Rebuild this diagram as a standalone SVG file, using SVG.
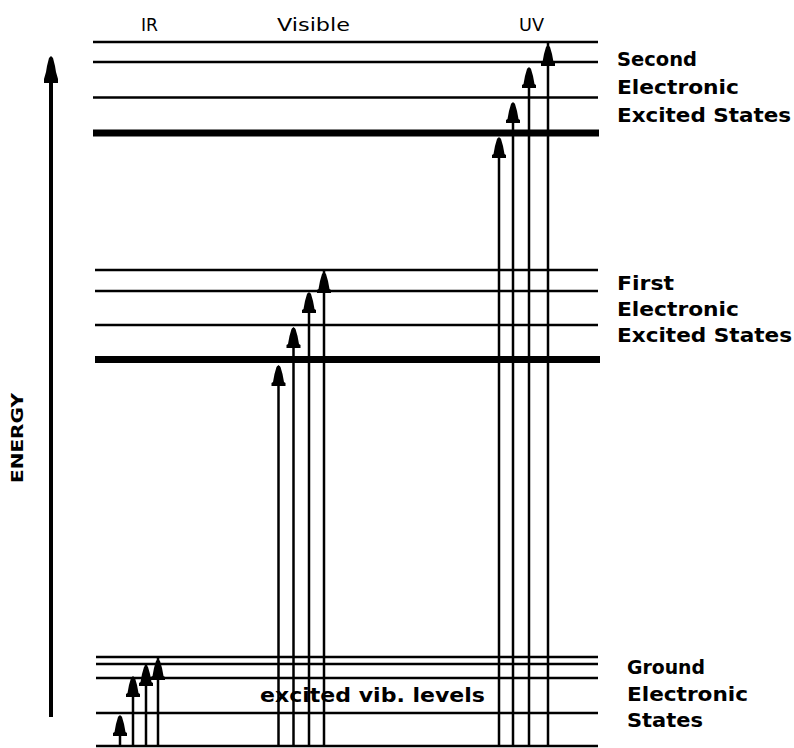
<svg xmlns="http://www.w3.org/2000/svg" xmlns:xlink="http://www.w3.org/1999/xlink" width="794" height="748" viewBox="0 0 794 748">
<style>
.lv{stroke:#000;stroke-width:2.5;fill:none}
.lvt{stroke:#000;stroke-width:7;fill:none}
.tr{stroke:#000;stroke-width:2.5;fill:none}
.lab{font-family:"DejaVu Sans",sans-serif;font-weight:bold;font-size:19px;fill:#000}
.top{font-family:"DejaVu Sans",sans-serif;font-size:18px;fill:#000}
</style>
<defs>
<path id="ah" d="M0,0 L2,2 L4,9 L5.5,17 L7,18 L7,21 L-7,21 L-7,18 L-5.5,17 L-4,9 L-2,2 Z" fill="#000"/>
</defs>
<rect width="794" height="748" fill="#fff"/>

<g id="region-labels">
<text class="top" x="141" y="31" textLength="17" lengthAdjust="spacingAndGlyphs">IR</text>
<text class="top" x="277" y="31" textLength="73" lengthAdjust="spacingAndGlyphs">Visible</text>
<text class="top" x="519" y="31" textLength="25" lengthAdjust="spacingAndGlyphs">UV</text>
</g>

<g id="energy-axis">
<line x1="51" y1="80" x2="51" y2="717" stroke="#000" stroke-width="4"/>
<path d="M51,56 L53,58 L55,66 L56,72 L58,79 L58,83 L44,83 L44,79 L46,72 L47,66 L49,58 Z" fill="#000"/>
<text class="lab" transform="translate(23,483) rotate(-90)" x="0" y="0" font-size="15" style="font-size:15px" textLength="90" lengthAdjust="spacingAndGlyphs">ENERGY</text>
</g>

<g id="second-excited">
<line class="lv" x1="93" y1="42" x2="598" y2="42"/>
<line class="lv" x1="93" y1="62" x2="598" y2="62"/>
<line class="lv" x1="93" y1="97.5" x2="598" y2="97.5"/>
<line class="lvt" x1="93" y1="133" x2="599" y2="133"/>
<text class="lab" x="617" y="66" textLength="80" lengthAdjust="spacingAndGlyphs">Second</text>
<text class="lab" x="617" y="94" textLength="122" lengthAdjust="spacingAndGlyphs">Electronic</text>
<text class="lab" x="617" y="122" textLength="174" lengthAdjust="spacingAndGlyphs">Excited States</text>
</g>

<g id="first-excited">
<line class="lv" x1="95" y1="270" x2="598" y2="270"/>
<line class="lv" x1="95" y1="291" x2="598" y2="291"/>
<line class="lv" x1="95" y1="325" x2="598" y2="325"/>
<line class="lvt" x1="95" y1="359.5" x2="600" y2="359.5"/>
<text class="lab" x="617" y="290" textLength="57" lengthAdjust="spacingAndGlyphs">First</text>
<text class="lab" x="617" y="316" textLength="122" lengthAdjust="spacingAndGlyphs">Electronic</text>
<text class="lab" x="617" y="342" textLength="175" lengthAdjust="spacingAndGlyphs">Excited States</text>
</g>

<g id="ground">
<line class="lv" x1="96" y1="657" x2="598" y2="657"/>
<line class="lv" x1="96" y1="664" x2="598" y2="664"/>
<line class="lv" x1="96" y1="678" x2="598" y2="678"/>
<line class="lv" x1="96" y1="713" x2="598" y2="713"/>
<line class="lv" x1="96" y1="746" x2="598" y2="746"/>
<text class="lab" x="627" y="674" textLength="78" lengthAdjust="spacingAndGlyphs">Ground</text>
<text class="lab" x="627" y="701" textLength="121" lengthAdjust="spacingAndGlyphs">Electronic</text>
<text class="lab" x="627" y="727" textLength="76" lengthAdjust="spacingAndGlyphs">States</text>
<text class="lab" x="260" y="702" textLength="225" lengthAdjust="spacingAndGlyphs">excited vib. levels</text>
</g>

<g id="connectors">
<!-- IR -->
<line class="tr" x1="120" y1="746" x2="120" y2="716"/>
<use xlink:href="#ah" x="120" y="715"/>
<line class="tr" x1="133" y1="746" x2="133" y2="677"/>
<use xlink:href="#ah" x="133" y="676"/>
<line class="tr" x1="146" y1="746" x2="146" y2="665"/>
<use xlink:href="#ah" x="146" y="665"/>
<line class="tr" x1="158" y1="746" x2="158" y2="657"/>
<use xlink:href="#ah" x="158" y="659"/>
<!-- Visible -->
<line class="tr" x1="278.5" y1="746" x2="278.5" y2="366"/>
<use xlink:href="#ah" x="278.5" y="365"/>
<line class="tr" x1="293.5" y1="746" x2="293.5" y2="328"/>
<use xlink:href="#ah" x="293.5" y="327"/>
<line class="tr" x1="309" y1="746" x2="309" y2="293"/>
<use xlink:href="#ah" x="309" y="292"/>
<line class="tr" x1="324" y1="746" x2="324" y2="270"/>
<use xlink:href="#ah" x="324" y="272"/>
<!-- UV -->
<line class="tr" x1="499" y1="746" x2="499" y2="138"/>
<use xlink:href="#ah" x="499" y="137"/>
<line class="tr" x1="513" y1="746" x2="513" y2="103"/>
<use xlink:href="#ah" x="513" y="102"/>
<line class="tr" x1="529" y1="746" x2="529" y2="68"/>
<use xlink:href="#ah" x="529" y="67"/>
<line class="tr" x1="548" y1="746" x2="548" y2="42"/>
<use xlink:href="#ah" x="548" y="45"/>
</g>
</svg>
